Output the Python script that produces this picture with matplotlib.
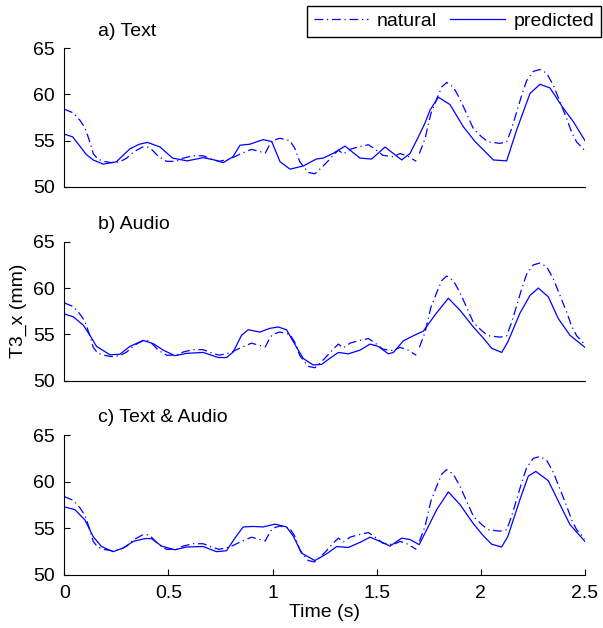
import numpy as np
import matplotlib
matplotlib.use("Agg")
import matplotlib.pyplot as plt

plt.rcParams['font.family'] = ['Liberation Sans', 'DejaVu Sans']
plt.rcParams['font.size'] = 14

# natural trajectory (same in all three panels), nan = break in the curve
natural_t = [0, 0.043, 0.075, 0.099, 0.123, 0.139, 0.16, 0.19, 0.227, 0.267, 0.30, 0.335,
             0.376, 0.40, 0.419, 0.451, 0.491, 0.539, 0.571, 0.619, 0.667, 0.707, 0.743,
             0.795, 0.851, 0.899, 0.931, 0.965, 0.985, 1.0, 1.035, 1.083, 1.107, 1.131,
             1.171, 1.203, 1.235, 1.267, 1.295, 1.316, 1.34, 1.372, 1.41, 1.46, 1.49,
             1.53, 1.58, 1.612, 1.65, 1.69, 1.70, 1.705, 1.732, 1.76, 1.788, 1.812, 1.836,
             1.868, 1.90, 1.932, 1.964, 2.004, 2.036, 2.092, 2.124, 2.148, 2.172, 2.196,
             2.22, 2.252, 2.284, 2.316, 2.348, 2.38, 2.412, 2.436, 2.46, 2.5]
natural_y = [58.4, 58.0, 57.2, 56.4, 54.85, 53.6, 53.0, 52.75, 52.6, 52.7, 53.1, 53.8,
             54.3, 54.3, 54.05, 53.3, 52.75, 52.75, 53.1, 53.35, 53.35, 53.0, 52.75,
             53.0, 53.6, 54.05, 53.85, 53.65, 54.5, 55.0, 55.25, 55.0, 54.15, 52.7,
             51.55, 51.4, 52.05, 52.8, 53.5, 53.95, 53.55, 54.05, 54.3, 54.55, 54.1,
             53.4, 53.25, 53.6, 53.3, 52.75, np.nan, 53.6, 55.2, 57.9, 59.5, 60.8, 61.3,
             60.8, 59.5, 57.9, 56.3, 55.4, 54.85, 54.7, 54.85, 56.3, 58.1, 59.9,
             61.5, 62.5, 62.7, 62.3, 61.0, 59.2, 57.4, 55.9, 54.85, 53.9]

# predicted trajectories
text_t = [0, 0.04, 0.075, 0.105, 0.139, 0.187, 0.25, 0.315, 0.36, 0.40, 0.46, 0.52, 0.59,
          0.667, 0.72, 0.763, 0.81, 0.844, 0.89, 0.955, 0.996, 1.036, 1.084, 1.148, 1.21,
          1.243, 1.29, 1.348, 1.42, 1.476, 1.54, 1.58, 1.62, 1.66, 1.70, 1.732, 1.756,
          1.796, 1.852, 1.916, 1.972, 2.012, 2.06, 2.124, 2.172, 2.236, 2.284, 2.332,
          2.396, 2.444, 2.5]
text_y = [55.7, 55.4, 54.4, 53.5, 52.9, 52.45, 52.7, 54.1, 54.6, 54.8, 54.3, 53.1, 52.8,
          53.15, 52.9, 52.6, 53.25, 54.5, 54.6, 55.1, 54.9, 52.7, 51.9, 52.25, 53.0,
          53.1, 53.6, 54.4, 53.1, 53.0, 54.3, 53.6, 52.9, 53.6, 55.4, 56.9, 58.3,
          59.7, 58.9, 56.5, 54.9, 54.0, 52.9, 52.8, 56.15, 60.1, 61.1, 60.7,
          58.5, 57.05, 55.0]

audio_t = [0, 0.043, 0.091, 0.123, 0.155, 0.219, 0.267, 0.315, 0.379, 0.427, 0.475, 0.531,
           0.587, 0.667, 0.739, 0.779, 0.811, 0.851, 0.883, 0.939, 0.987, 1.027, 1.067,
           1.10, 1.147, 1.195, 1.235, 1.268, 1.316, 1.364, 1.42, 1.468, 1.508, 1.556,
           1.58, 1.628, 1.676, 1.724, 1.78, 1.844, 1.90, 1.964, 2.012, 2.052, 2.10, 2.13,
           2.188, 2.236, 2.276, 2.324, 2.372, 2.428, 2.5]
audio_y = [57.2, 56.9, 56.0, 54.9, 53.7, 52.8, 52.85, 53.7, 54.35, 54.0, 53.3, 52.7,
           52.95, 53.05, 52.5, 52.5, 53.1, 54.9, 55.5, 55.25, 55.65, 55.8, 55.5,
           54.2, 52.4, 51.7, 51.75, 52.3, 53.05, 52.9, 53.3, 53.95, 53.7, 52.9,
           53.05, 54.3, 54.85, 55.35, 57.1, 58.9, 57.6, 55.8, 54.6, 53.5, 53.05, 54.2,
           57.3, 59.2, 60.0, 59.05, 56.7, 54.9, 53.6]

both_t = [0, 0.051, 0.099, 0.139, 0.179, 0.235, 0.283, 0.331, 0.387, 0.419, 0.467, 0.531,
          0.587, 0.667, 0.731, 0.779, 0.819, 0.859, 0.907, 0.955, 1.011, 1.067, 1.10,
          1.139, 1.203, 1.243, 1.268, 1.308, 1.364, 1.42, 1.468, 1.516, 1.564, 1.62,
          1.66, 1.704, 1.74, 1.788, 1.844, 1.90, 1.964, 2.012, 2.052, 2.10, 2.13, 2.188,
          2.228, 2.264, 2.324, 2.38, 2.428, 2.5]
both_y = [57.3, 57.0, 55.9, 54.1, 53.05, 52.5, 52.9, 53.6, 53.9, 53.9, 53.1, 52.7,
          53.0, 53.05, 52.5, 52.6, 53.95, 55.15, 55.2, 55.15, 55.45, 55.15, 54.15,
          52.35, 51.55, 52.05, 52.4, 53.05, 52.95, 53.5, 54.05, 53.6, 53.1, 53.95,
          53.8, 53.25, 54.85, 57.0, 58.9, 57.55, 55.5, 54.2, 53.3, 53.0, 54.15, 58.1,
          60.6, 61.1, 60.1, 57.55, 55.4, 53.6]

titles = ['a) Text', 'b) Audio', 'c) Text & Audio']
predicted = [(text_t, text_y), (audio_t, audio_y), (both_t, both_y)]
xticks = [0, 0.5, 1, 1.5, 2, 2.5]
xticklabels = ['0', '0.5', '1', '1.5', '2', '2.5']
yticks = [50, 55, 60, 65]

fig = plt.figure(figsize=(6.03, 6.28), dpi=100)
# axes boxes, top to bottom: a, b, c
boxes = [[0.1066, 0.7027, 0.8635, 0.2204],
         [0.1066, 0.3938, 0.8635, 0.2213],
         [0.1066, 0.0844, 0.8635, 0.2229]]

for i in range(3):
    ax = fig.add_axes(boxes[i])
    ln_nat, = ax.plot(natural_t, natural_y, color='b', lw=0.9, linestyle=(0, (7, 3, 1, 3)))
    ln_pred, = ax.plot(predicted[i][0], predicted[i][1], color='b', lw=0.9)
    ax.set_xlim(0, 2.5)
    ax.set_ylim(50, 65)
    ax.set_yticks(yticks)
    ax.spines['top'].set_visible(False)
    ax.spines['right'].set_visible(False)
    ax.tick_params(direction='in', length=4, labelsize=14, pad=7)
    if i < 2:
        ax.set_xticks([])
    else:
        ax.set_xticks(xticks)
        ax.set_xticklabels(xticklabels)
        ax.set_xlabel('Time (s)', fontsize=14, labelpad=2)
    ax.text(0.065, 1.185, titles[i], transform=ax.transAxes, fontsize=14, va='top')
    if i == 1:
        ax.set_ylabel('T3_x (mm)', fontsize=14, labelpad=4)

fig.legend([ln_nat, ln_pred], ['natural', 'predicted'], ncol=2, loc='upper right',
           bbox_to_anchor=(0.997, 0.991), borderaxespad=0, frameon=True, fancybox=False,
           edgecolor='k', framealpha=1, handlelength=2.8, handletextpad=0.45,
           columnspacing=0.7, borderpad=0.35, fontsize=14)

fig.savefig('out.png', dpi=100)
